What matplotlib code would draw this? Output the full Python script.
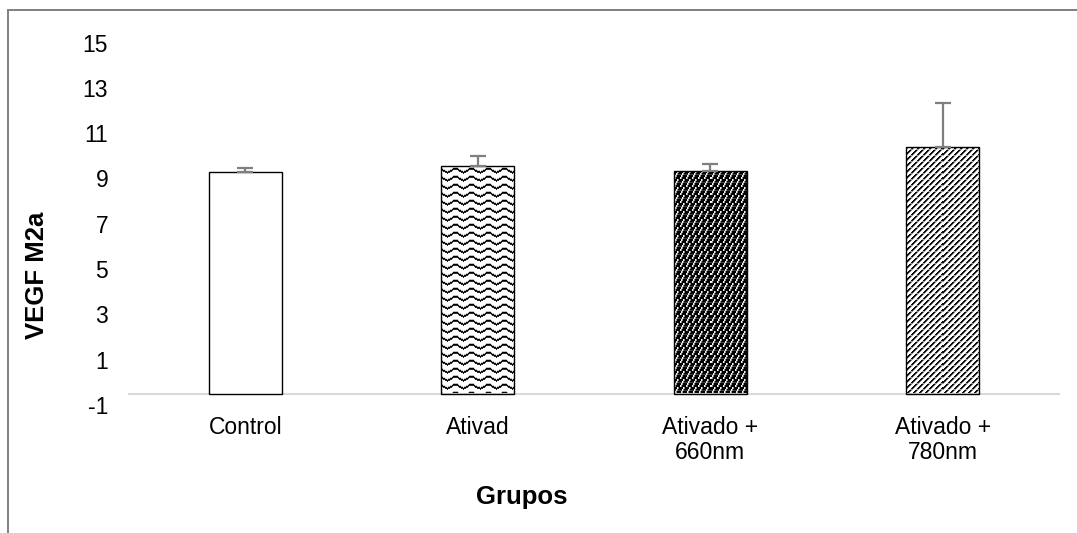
import matplotlib
matplotlib.use('Agg')
import matplotlib.pyplot as plt
from matplotlib.patches import Rectangle
import numpy as np

plt.rcParams['font.family'] = ['Liberation Sans', 'DejaVu Sans']

grupos = ['Control', 'Ativad', 'Ativado +\n660nm', 'Ativado +\n780nm']
vegf_m2a = [9.28, 9.55, 9.33, 10.39]
erro = [0.20, 0.45, 0.31, 1.92]
y_ticks = [-1, 1, 3, 5, 7, 9, 11, 13, 15]
axis_cross = -0.5

W, H = 1077, 533
fig = plt.figure(figsize=(W / 100, H / 100), dpi=100)

# plot area in pixels: x 129..1059, y(15)=42.5 .. y(-1)=405
left, right, top, bottom = 129, 1059, 42.5, 405
ax = fig.add_axes([left / W, (H - bottom) / H, (right - left) / W, (bottom - top) / H])

x = np.arange(len(grupos))
bar_w = 0.314
bars = ax.bar(x, np.array(vegf_m2a) - axis_cross, bottom=axis_cross, width=bar_w,
              color=['white', 'none', 'none', 'none'], edgecolor='black',
              linewidth=1.0, zorder=3)
ax.errorbar(x, vegf_m2a, yerr=[np.zeros(len(erro)), erro], fmt='none',
            ecolor='#7f7f7f', elinewidth=1.6, capsize=5.5, capthick=1.6, zorder=4)


# pattern tiles (1 = white, 0 = black)
def wave_tile():
    t = np.ones((8, 16))
    for c in range(16):
        r = int(round(3.5 + 2.0 * np.sin(2 * np.pi * (c - 2) / 16)))
        t[r, c] = 0.0
        t[(r + 1) % 8, c] = 0.15
        t[(r - 1) % 8, c] = min(t[(r - 1) % 8, c], 0.75)
    return t


def dark_tile():
    t = np.zeros((8, 6))
    for r in range(8):
        c = (7 - r) // 2
        t[r, c % 6] = 0.95
        t[r, (c + 1) % 6] = 0.55
    t[3, :] = np.where(t[3, :] > 0, t[3, :], 0.25)
    return t


def diag_tile():
    t = np.ones((6, 6))
    for r in range(6):
        for c in range(6):
            k = (r + c) % 6
            if k in (0, 1):
                t[r, c] = 0.05
            elif k == 2:
                t[r, c] = 0.55
    t[2, :] = np.maximum(t[2, :], 0.6)
    return t


tiles = [None, wave_tile(), dark_tile(), diag_tile()]
px_per_x = (right - left) / 4.0
px_per_y = (bottom - top) / 16.0

for bar, tile in zip(bars, tiles):
    if tile is None:
        continue
    x0, y0 = bar.get_x(), bar.get_y()
    bw, bh = bar.get_width(), bar.get_height()
    w_px = int(round(bw * px_per_x))
    h_px = int(round(bh * px_per_y))
    th, tw = tile.shape
    img = np.tile(tile, (h_px // th + 1, w_px // tw + 1))[:h_px, :w_px]
    im = ax.imshow(img, cmap='gray', vmin=0, vmax=1, interpolation='nearest',
                   extent=(x0, x0 + bw, y0, y0 + bh), aspect='auto', zorder=2)
    im.set_clip_path(bar)

ax.set_xlim(-0.5, 3.5)
ax.set_ylim(-1, 15)

for s in ['top', 'right', 'left']:
    ax.spines[s].set_visible(False)
ax.spines['bottom'].set_position(('data', axis_cross))
ax.spines['bottom'].set_color('#d9d9d9')
ax.spines['bottom'].set_linewidth(1.5)

ax.set_yticks(y_ticks)
ax.set_yticklabels([str(v) for v in y_ticks])
ax.set_xticks(x)
ax.set_xticklabels(grupos, linespacing=1.1)
ax.tick_params(axis='y', length=0, pad=15, labelsize=16.5)
ax.tick_params(axis='x', length=0, pad=16, labelsize=16.5)

fig.text(37 / W, 1 - 275 / H, 'VEGF M2a', rotation=90, ha='center', va='center',
         fontsize=18.5, fontweight='bold')
fig.text(522 / W, 1 - 497 / H, 'Grupos', ha='center', va='center',
         fontsize=18.5, fontweight='bold')

# chart border
fig.patches.append(Rectangle((8 / W, -0.2), 1.2, 1.2 - 10 / H, transform=fig.transFigure,
                             fill=False, edgecolor='#808080', linewidth=1.4))

fig.savefig('out.png', dpi=100)
